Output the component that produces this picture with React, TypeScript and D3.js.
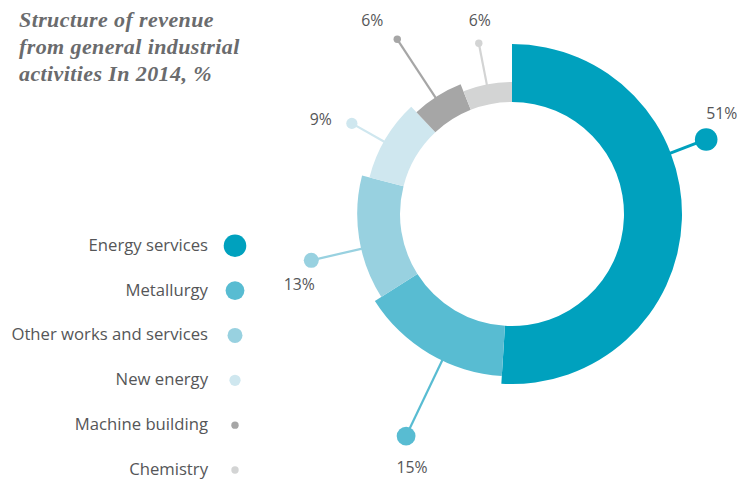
import React from "react";
import * as d3 from "d3";

const categories = [
  "Energy services",
  "Metallurgy",
  "Other works and services",
  "New energy",
  "Machine building",
  "Chemistry",
];
const shares = [51, 15, 13, 9, 6, 6];
const labels = ["51%", "15%", "13%", "9%", "6%", "6%"];
const colors = ["#00a1be", "#58bcd2", "#98d1e0", "#cfe7ef", "#a6a6a6", "#d3d4d4"];
const titleLines = [
  "Structure of revenue",
  "from general industrial",
  "activities In 2014, %",
];

// leader layout (angle in degrees clockwise from top, distance of dot from centre)
const leaderAngle = [69, 205.5, 257, 299.5, 326.7, 349];
const leaderDist = [208, 246, 206, 184, 209, 174];
const labelDx = [0, 6, -12, -20, -25, 1];
const labelDy = [-20, 37, 30, 2, -13, -17];
const labelAnchor = ["start", "middle", "middle", "end", "middle", "middle"];

const W = 737;
const H = 482;
const cx = 512;
const cy = 214;

export default function App() {
  const pie = d3
    .pie<number>()
    .sort(null)
    .value((d) => d);
  const arcsData = pie(shares);
  const outerR = d3.scaleLinear().domain([0, 5]).range([170, 132]);
  const dotR = d3.scaleLinear().domain([0, 4]).range([11.3, 3.7]).clamp(true);
  const innerR = 112;
  const legendY = d3.scaleLinear().domain([0, 5]).range([245.7, 470]);
  const rad = (deg: number) => (deg * Math.PI) / 180;

  return (
    <svg
      width={W}
      height={H}
      style={{ position: "absolute", left: 0, top: 0, background: "#fff" }}
    >
      <g
        fontFamily="'Liberation Serif', serif"
        fontStyle="italic"
        fontWeight="bold"
        fill="#6a6b6d"
        fontSize={22}
        letterSpacing={0.4}
      >
        {titleLines.map((t, i) => (
          <text key={i} x={19} y={27 + i * 27}>
            {t}
          </text>
        ))}
      </g>
      <g transform={`translate(${cx},${cy})`}>
        {arcsData.map((a, i) => {
          const arc = d3
            .arc<d3.PieArcDatum<number>>()
            .innerRadius(innerR)
            .outerRadius(outerR(i));
          return <path key={i} d={arc(a) || ""} fill={colors[i]} />;
        })}
        {arcsData.map((a, i) => {
          const ang = rad(leaderAngle[i]);
          const r0 = outerR(i) - 1;
          const x0 = r0 * Math.sin(ang);
          const y0 = -r0 * Math.cos(ang);
          const x1 = leaderDist[i] * Math.sin(ang);
          const y1 = -leaderDist[i] * Math.cos(ang);
          return (
            <g key={i}>
              <line
                x1={x0}
                y1={y0}
                x2={x1}
                y2={y1}
                stroke={colors[i]}
                strokeWidth={i === 0 ? 3 : 2.2}
              />
              <circle cx={x1} cy={y1} r={dotR(i)} fill={colors[i]} />
              <text
                x={x1 + labelDx[i]}
                y={y1 + labelDy[i]}
                textAnchor={labelAnchor[i] as any}
                fontFamily="'Open Sans', sans-serif"
                fontSize={15.8}
                fill="#555658"
              >
                {labels[i]}
              </text>
            </g>
          );
        })}
      </g>
      <g fontFamily="'Open Sans', sans-serif" fontSize={16.7} fill="#555658">
        {categories.map((c, i) => (
          <g key={i}>
            <text x={208} y={legendY(i) + 5} textAnchor="end">
              {c}
            </text>
            <circle cx={235} cy={legendY(i)} r={dotR(i)} fill={colors[i]} />
          </g>
        ))}
      </g>
    </svg>
  );
}
